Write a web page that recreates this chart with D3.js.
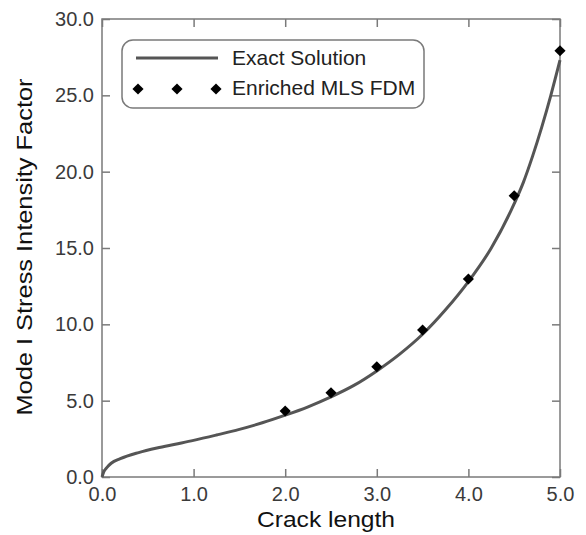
<!DOCTYPE html>
<html>
<head>
<meta charset="utf-8">
<script src="https://cdn.jsdelivr.net/npm/d3@7"></script>
<style>
  html, body { margin: 0; padding: 0; background: #fff; }
  svg { display: block; font-family: "Liberation Sans", Arial, sans-serif; }
</style>
</head>
<body>
<svg id="chart" width="586" height="535"></svg>
<script>
// Exact solution curve (crack length vs. mode I SIF)
const exactLength = [0, 0.02, 0.05, 0.1, 0.2, 0.4, 0.6, 0.8, 1.0, 1.25, 1.5, 1.75, 2.0, 2.25, 2.5, 2.75, 3.0, 3.25, 3.5, 3.75, 4.0, 4.25, 4.5, 4.6, 4.7, 4.8, 4.9, 5.0];
const exactK      = [0, 0.35, 0.6, 0.9, 1.2, 1.6, 1.9, 2.15, 2.4, 2.75, 3.12, 3.55, 4.05, 4.6, 5.25, 6.0, 6.95, 8.05, 9.35, 10.95, 12.8, 15.0, 17.9, 19.3, 21.0, 22.9, 25.0, 27.3];

// Enriched MLS FDM results
const fdmLength = [2.0, 2.5, 3.0, 3.5, 4.0, 4.5, 5.0];
const fdmK      = [4.32, 5.52, 7.22, 9.63, 12.97, 18.42, 27.92];

// Axis ticks
const xTicks = [0, 1, 2, 3, 4, 5];
const yTicks = [0, 5, 10, 15, 20, 25, 30];

const seriesNames = ["Exact Solution", "Enriched MLS FDM"];

const svg = d3.select("#chart");
const plotLeft = 102, plotRight = 560, plotTop = 19, plotBottom = 477;

const x = d3.scaleLinear().domain([0, 5]).range([plotLeft, plotRight]);
const y = d3.scaleLinear().domain([0, 30]).range([plotBottom, plotTop]);

const frameColor = "#7a7a7a";
const tickLen = 8;

// Bottom axis (labels + inward ticks)
const xAxis = svg.append("g")
  .attr("transform", `translate(0,${plotBottom})`)
  .call(d3.axisBottom(x).tickValues(xTicks).tickSizeInner(-tickLen).tickSizeOuter(0)
    .tickFormat(d3.format(".1f")));
// Top axis (ticks only)
const xAxisTop = svg.append("g")
  .attr("transform", `translate(0,${plotTop})`)
  .call(d3.axisTop(x).tickValues(xTicks).tickSizeInner(-tickLen).tickSizeOuter(0).tickFormat(""));
// Left axis
const yAxis = svg.append("g")
  .attr("transform", `translate(${plotLeft},0)`)
  .call(d3.axisLeft(y).tickValues(yTicks).tickSizeInner(-tickLen).tickSizeOuter(0)
    .tickFormat(d3.format(".1f")));
// Right axis (ticks only)
const yAxisRight = svg.append("g")
  .attr("transform", `translate(${plotRight},0)`)
  .call(d3.axisRight(y).tickValues(yTicks).tickSizeInner(-tickLen).tickSizeOuter(0).tickFormat(""));

[xAxis, xAxisTop, yAxis, yAxisRight].forEach(g => {
  g.select(".domain").remove();
  g.selectAll(".tick line").attr("stroke", frameColor).attr("stroke-width", 1.5);
  g.selectAll(".tick text")
    .attr("fill", "#3a3a3a")
    .attr("font-size", 20)
    .attr("font-family", "\"Liberation Sans\", Arial, sans-serif");
});
xAxis.selectAll(".tick text").attr("y", 10).attr("dy", "0.71em");
yAxis.selectAll(".tick text").attr("x", -8);

// Plot frame
svg.append("rect")
  .attr("x", plotLeft).attr("y", plotTop)
  .attr("width", plotRight - plotLeft).attr("height", plotBottom - plotTop)
  .attr("fill", "none").attr("stroke", frameColor).attr("stroke-width", 1.5);

// Exact solution line
const line = d3.line().x(i => x(exactLength[i])).y(i => y(exactK[i])).curve(d3.curveMonotoneX);
svg.append("path")
  .attr("d", line(d3.range(exactLength.length)))
  .attr("fill", "none")
  .attr("stroke", "#555")
  .attr("stroke-width", 3);

// FDM diamonds
const diamond = d3.symbol().type(d3.symbolSquare).size(62);
svg.append("g").selectAll("path")
  .data(d3.range(fdmLength.length))
  .join("path")
  .attr("d", diamond)
  .attr("transform", i => `translate(${x(fdmLength[i])},${y(fdmK[i])}) rotate(45)`)
  .attr("fill", "#000");

// Axis titles
svg.append("text")
  .attr("x", (plotLeft + plotRight) / 2 - 5).attr("y", 527)
  .attr("text-anchor", "middle")
  .attr("font-size", 22)
  .attr("fill", "#111")
  .attr("textLength", 138).attr("lengthAdjust", "spacingAndGlyphs")
  .text("Crack length");

svg.append("text")
  .attr("transform", `translate(32,${(plotTop + plotBottom) / 2 - 1}) rotate(-90)`)
  .attr("text-anchor", "middle")
  .attr("font-size", 22)
  .attr("fill", "#111")
  .attr("textLength", 337).attr("lengthAdjust", "spacingAndGlyphs")
  .text("Mode I Stress Intensity Factor");

// Legend
const legend = svg.append("g");
legend.append("rect")
  .attr("x", 122).attr("y", 40).attr("width", 302).attr("height", 68)
  .attr("rx", 11).attr("ry", 11)
  .attr("fill", "#fff").attr("stroke", frameColor).attr("stroke-width", 1.5);
legend.append("line")
  .attr("x1", 136).attr("x2", 218).attr("y1", 58).attr("y2", 58)
  .attr("stroke", "#555").attr("stroke-width", 3);
legend.selectAll("path.key")
  .data([138, 177, 216])
  .join("path")
  .attr("class", "key")
  .attr("d", diamond)
  .attr("transform", d => `translate(${d},89) rotate(45)`)
  .attr("fill", "#000");
legend.selectAll("text")
  .data(seriesNames)
  .join("text")
  .attr("x", 232)
  .attr("y", (d, i) => 65 + i * 30)
  .attr("font-size", 21)
  .attr("fill", "#222")
  .text(d => d);
</script>
</body>
</html>
